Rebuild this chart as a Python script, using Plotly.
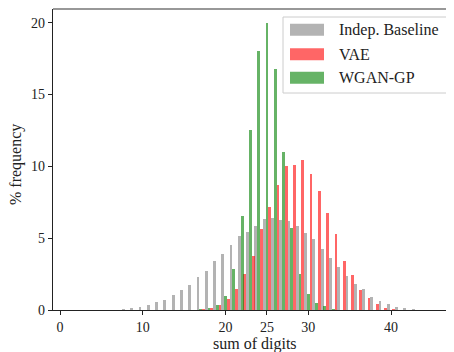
import plotly.graph_objects as go

# ---- data ----
base_x = list(range(7, 45))
base_y = [0.03, 0.07, 0.14, 0.22, 0.36, 0.56, 0.71, 1.05, 1.39, 1.74, 2.30, 2.71, 3.40, 3.89,
          4.51, 5.14, 5.42, 5.83, 6.32, 6.39, 6.25, 6.18, 5.83, 5.35, 4.93, 4.24, 3.61, 2.99,
          2.36, 1.81, 1.46, 0.90, 0.63, 0.42, 0.21, 0.14, 0.07, 0.03]
vae_x = list(range(16, 42))
vae_y = [0.02, 0.05, 0.14, 0.35, 0.76, 1.46, 2.50, 3.75, 5.63, 7.15, 8.68, 10.0, 10.07, 10.42,
         9.44, 8.26, 6.74, 5.28, 3.40, 2.43, 1.39, 0.83, 0.42, 0.14, 0.07, 0.02]
wgan_x = list(range(16, 35))
wgan_y = [0.02, 0.05, 0.14, 0.33, 0.97, 2.85, 6.53, 12.5, 18.06, 20.0, 16.8, 10.97, 5.69, 2.50,
          1.11, 0.49, 0.28, 0.07, 0.03]
series_names = ["Indep. Baseline", "VAE", "WGAN-GP"]
x_ticks = [0, 10, 20, 25, 30, 40]
y_ticks = [0, 5, 10, 15, 20]

colors = ["rgba(128,128,128,0.6)", "rgba(255,0,0,0.6)", "rgba(0,128,0,0.6)"]
FONT = "Liberation Serif"
W = 0.34
shifts = [-1/3, 1/3, 0.0]

fig = go.Figure()
for xs, ys, name, col, sh in zip([base_x, vae_x, wgan_x], [base_y, vae_y, wgan_y],
                                 series_names, colors, shifts):
    fig.add_trace(go.Bar(x=xs, y=ys, name=name, width=W, offset=sh - W / 2,
                         marker=dict(color=col, line=dict(width=0)), showlegend=False))

# page body has an 8px margin: the figure starts at (8, 8) in the screenshot
OFF = 8
FW, FH = 454 - OFF, 352 - OFF
# plot area geometry in screenshot pixels
L, R, T, B = 53, 454, 9, 310
def px(x):
    return (x - L) / (R - L)
def py(y):
    return (B - y) / (B - T)

shapes = [
    dict(type="line", xref="paper", yref="paper", x0=0, x1=1, y0=1, y1=1,
         line=dict(color="#333", width=1.2)),
    # legend frame
    dict(type="rect", xref="paper", yref="paper", x0=px(283), x1=px(448), y0=py(93), y1=py(17),
         line=dict(color="#cccccc", width=1), fillcolor="rgba(255,255,255,0.8)", layer="above"),
]
annotations = []
rows = [29.7, 54.2, 77.8]
for name, col, yc in zip(series_names, colors, rows):
    shapes.append(dict(type="rect", xref="paper", yref="paper", x0=px(290), x1=px(324),
                       y0=py(yc + 6), y1=py(yc - 6), line=dict(width=0), fillcolor=col,
                       layer="above"))
    annotations.append(dict(text=name, xref="paper", yref="paper", x=px(337), y=py(yc),
                            xanchor="left", yanchor="middle", showarrow=False,
                            font=dict(family=FONT, size=16, color="#222")))
# axis titles
annotations.append(dict(text="sum of digits", xref="paper", yref="paper", x=px(255), y=py(344),
                        xanchor="center", yanchor="middle", showarrow=False,
                        font=dict(family=FONT, size=16, color="#222")))
annotations.append(dict(text="% frequency", xref="paper", yref="paper", x=px(16), y=py(165),
                        xanchor="center", yanchor="middle", showarrow=False, textangle=-90,
                        font=dict(family=FONT, size=16, color="#222")))

fig.update_layout(
    width=FW, height=FH,
    margin=dict(l=L - OFF, r=FW - (R - OFF), t=T - OFF, b=FH - (B - OFF), autoexpand=False),
    paper_bgcolor="white", plot_bgcolor="white",
    barmode="overlay", bargap=0,
    font=dict(family=FONT, size=14, color="#222"),
    shapes=shapes, annotations=annotations,
    xaxis=dict(range=[-0.846, 47.6], tickvals=x_ticks, ticktext=[str(v) for v in x_ticks],
               showgrid=False, zeroline=False, showline=True, linecolor="#222", linewidth=1.2,
               ticks="outside", ticklen=4, tickcolor="#222", automargin=False),
    yaxis=dict(range=[0, 20.95], tickvals=y_ticks, showgrid=False, zeroline=False,
               showline=True, linecolor="#222", linewidth=1.2, automargin=False,
               ticks="outside", ticklen=4, tickcolor="#222"),
)

fig.write_html("out.html")
